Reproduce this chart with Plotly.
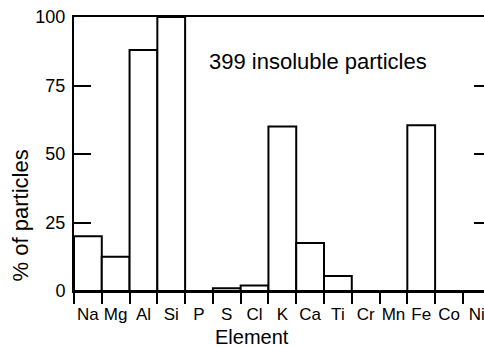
import plotly.graph_objects as go

elements = ["Na", "Mg", "Al", "Si", "P", "S", "Cl", "K", "Ca", "Ti", "Cr", "Mn", "Fe", "Co", "Ni"]
percent = [20, 12.5, 88, 100, 0, 1, 2, 60, 17.5, 5.5, 0, 0, 60.5, 0, 0]
y_ticks = [0, 25, 50, 75, 100]
right_ticks = [25, 50, 75]
annotation_text = "399 insoluble particles"

positions = list(range(len(elements)))
edges = [p - 0.5 for p in positions] + [positions[-1] + 0.5]

FONT = "Liberation Sans"

fig = go.Figure()
fig.add_trace(go.Bar(
    x=positions, y=percent, width=1,
    marker=dict(color="white", line=dict(color="black", width=2)),
    showlegend=False, hoverinfo="skip",
))
# invisible helper trace so the right-hand tick axis is rendered
fig.add_trace(go.Scatter(x=positions, y=percent, yaxis="y2", mode="markers",
                         marker=dict(opacity=0), showlegend=False, hoverinfo="skip"))

fig.update_layout(
    width=484, height=347,
    margin=dict(l=74, r=0, t=17, b=56),
    paper_bgcolor="white", plot_bgcolor="white",
    font=dict(family=FONT, color="black"),
    xaxis=dict(
        range=[-0.5, 14.26], automargin=False, domain=[0, 1],
        tickvals=positions, ticktext=elements,
        ticks="", showgrid=False, zeroline=False,
        showline=True, linecolor="black", linewidth=2, mirror=True,
        tickfont=dict(size=17, family=FONT),
        ticklabelstandoff=7, ticklabeloverflow="allow",
        minor=dict(tickvals=edges, ticks="outside", ticklen=11, tickwidth=2, tickcolor="black"),
    ),
    yaxis=dict(
        range=[0, 100], tickvals=y_ticks, automargin=False,
        ticks="inside", ticklen=17, tickwidth=2, tickcolor="black",
        showgrid=False, zeroline=False,
        showline=True, linecolor="black", linewidth=2,
        tickfont=dict(size=18, family=FONT),
        ticklabelstandoff=3,
    ),
    yaxis2=dict(
        range=[0, 100], overlaying="y", side="left", anchor="free", position=1.0,
        automargin=False,
        tickvals=right_ticks, ticks="outside", ticklen=10, tickwidth=2, tickcolor="black",
        showticklabels=False, showgrid=False, zeroline=False, showline=False,
    ),
    annotations=[
        dict(text=annotation_text, x=8.29, y=83.6, xref="x", yref="y",
             showarrow=False, font=dict(size=22, family=FONT), xanchor="center", yanchor="middle"),
        dict(text="% of particles", x=0, y=0.276, xref="paper", yref="paper",
             xshift=-54, textangle=-90, showarrow=False,
             font=dict(size=22, family=FONT), xanchor="center", yanchor="middle"),
        dict(text="Element", x=0.434, y=0, xref="paper", yref="paper",
             yshift=-46, showarrow=False,
             font=dict(size=20, family=FONT), xanchor="center", yanchor="middle"),
    ],
)

fig.write_html("out.html", config={"displayModeBar": False},
               post_script="document.body.style.margin='0';")
